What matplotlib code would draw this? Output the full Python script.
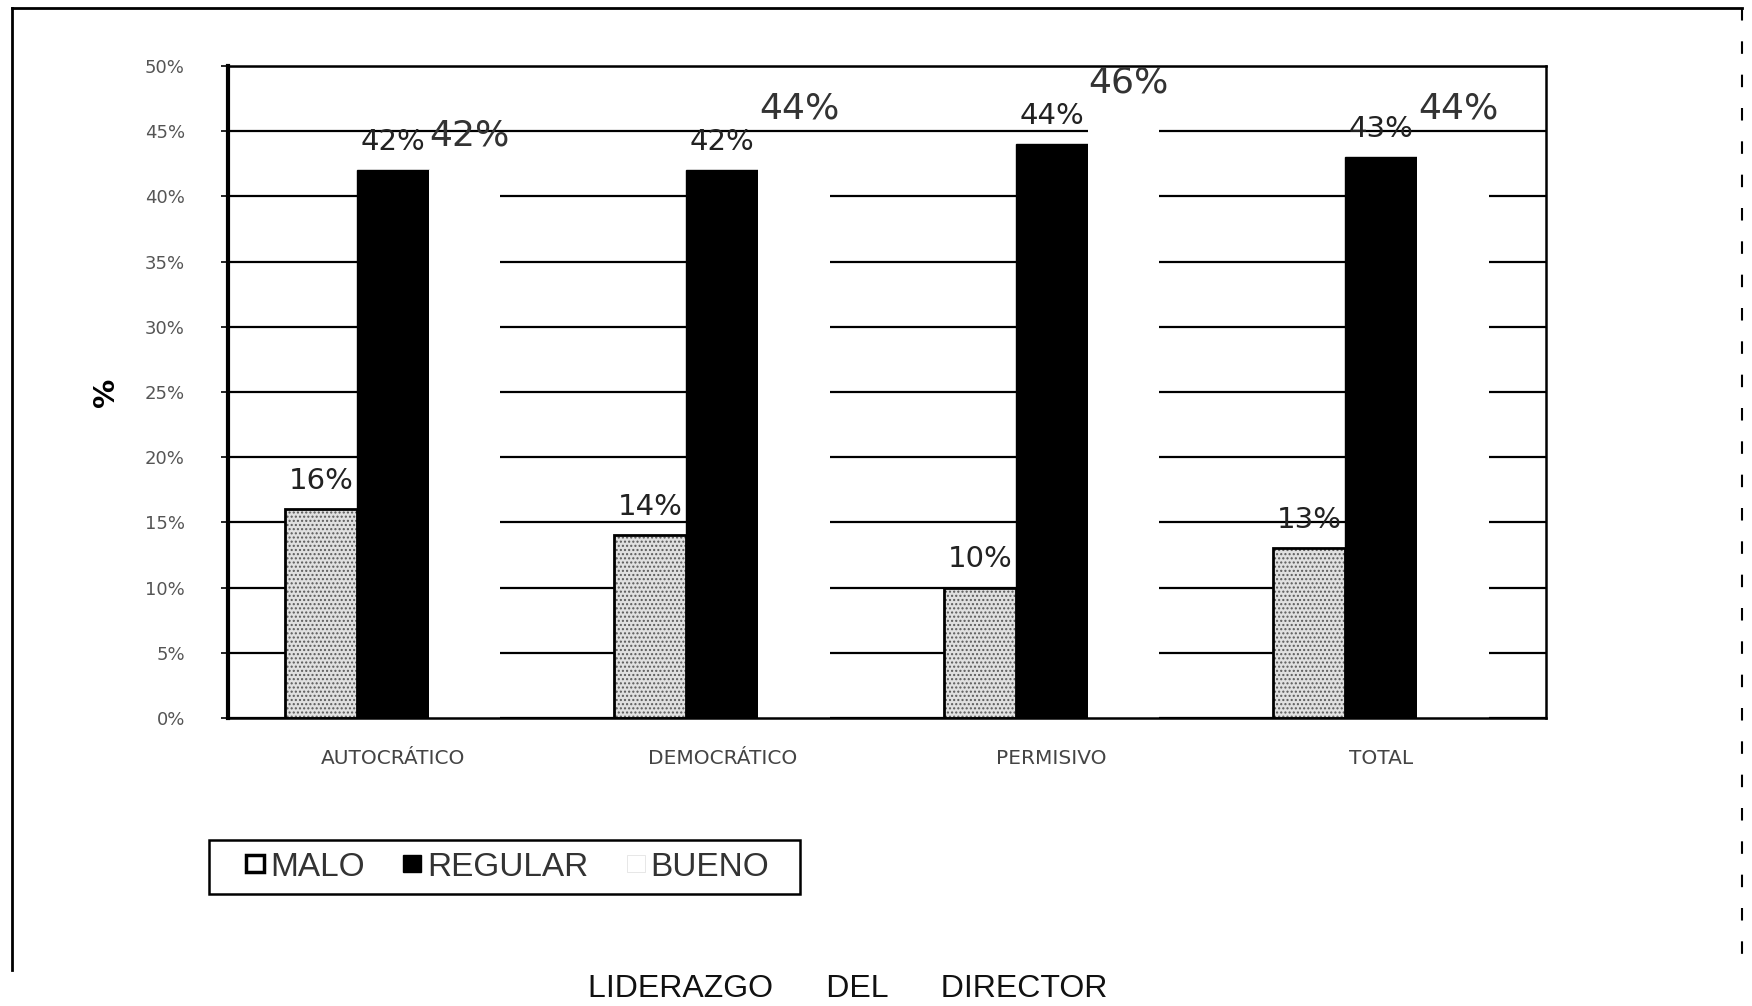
"""
Liderazgo del director: MALO / REGULAR / BUENO por tipo de liderazgo.
Recreates a scanned Excel bar chart.
"""
import numpy as np
import matplotlib
matplotlib.use('Agg')  # Non-interactive backend
import matplotlib.pyplot as plt
from matplotlib.patches import Patch, Rectangle
from matplotlib.lines import Line2D

# Data (percent)
categories = ['AUTOCRÁTICO', 'DEMOCRÁTICO', 'PERMISIVO', 'TOTAL']
malo = [16, 14, 10, 13]
regular = [42, 42, 44, 43]
bueno = [42, 44, 46, 44]
series_names = ['MALO', 'REGULAR', 'BUENO']
yticks = [0, 5, 10, 15, 20, 25, 30, 35, 40, 45, 50]
ytick_labels = ['0%', '5%', '10%', '15%', '20%', '25%', '30%', '35%', '40%', '45%', '50%']

W, H = 1752, 1006


def main():
    fig = plt.figure(figsize=(W / 100, H / 100), dpi=100)
    ax = fig.add_axes([0.1301, 0.2863, 0.7523, 0.6481])

    x = np.arange(len(categories)) + 0.5
    w = 0.218

    # MALO: light stippled bars with a black outline
    ax.bar(x - w, malo, w, color='#e0e0e0', edgecolor='#5a5a5a',
           hatch='....', linewidth=0, zorder=2)
    ax.bar(x - w, malo, w, fill=False, edgecolor='black', linewidth=2, zorder=3)
    # REGULAR: solid black
    ax.bar(x, regular, w, color='black', edgecolor='black', linewidth=1, zorder=2)
    # BUENO: white (washed out in the scan), hides the gridlines
    ax.bar(x + w, bueno, w, color='white', edgecolor='none', zorder=2)

    # value labels
    for i in range(len(categories)):
        ax.text(x[i] - w, malo[i] + 1.1, f'{malo[i]}%', ha='center', va='bottom',
                fontsize=21, family='DejaVu Sans', color='#222222', zorder=5)
        ax.text(x[i], regular[i] + 1.1, f'{regular[i]}%', ha='center', va='bottom',
                fontsize=21, family='DejaVu Sans', color='#222222', zorder=5)
        ax.text(x[i] + w + 0.015, bueno[i] + 1.4, f'{bueno[i]}%', ha='center',
                va='bottom', fontsize=26, family='DejaVu Sans',
                color='#333333', zorder=5)

    ax.set_xlim(0, len(categories))
    ax.set_ylim(0, 50)
    ax.set_yticks(yticks)
    ax.set_yticklabels(ytick_labels, fontsize=13, color='#555555',
                       family='DejaVu Sans')
    ax.set_xticks(x)
    ax.set_xticklabels(categories, fontsize=14.5, color='#444444',
                       family='DejaVu Sans')
    ax.tick_params(axis='y', length=5, width=1.2, pad=26, direction='out')
    ax.tick_params(axis='x', length=0, pad=22)

    ax.yaxis.grid(True, color='black', linewidth=1.6)
    ax.set_axisbelow(True)
    for side in ['top', 'right', 'bottom']:
        ax.spines[side].set_linewidth(1.8)
    ax.spines['left'].set_linewidth(3)

    ax.set_ylabel('%', fontsize=21, fontweight='bold', labelpad=18)

    # legend: frame drawn separately so its size matches the scan
    fig.add_artist(Rectangle((209 / W, 1 - 894 / H), (800 - 209) / W, 54 / H,
                             transform=fig.transFigure, fill=False,
                             edgecolor='black', linewidth=1.8))
    handles = [
        Patch(facecolor='white', edgecolor='black', linewidth=2.5),
        Patch(facecolor='black', edgecolor='black'),
        Patch(facecolor='white', edgecolor='#dddddd', linewidth=0.5),
    ]
    leg = fig.legend(handles, series_names, loc='center left',
                     bbox_to_anchor=(246 / W, 1 - 867 / H), ncol=3, frameon=False,
                     fontsize=24, handlelength=0.55, handleheight=0.43,
                     handletextpad=0.17, columnspacing=1.15,
                     borderpad=0, borderaxespad=0)
    for t in leg.get_texts():
        t.set_color('#333333')
        t.set_family('Liberation Sans')

    # title below the chart
    fig.text(0.484, 17 / H, 'LIDERAZGO      DEL      DIRECTOR', ha='center',
             va='center', fontsize=23, family='Liberation Sans',
             color='#111111')

    # scanned page frame
    fig.add_artist(Line2D([12 / W, 1742 / W], [1 - 8 / H, 1 - 8 / H],
                          color='black', linewidth=2))
    fig.add_artist(Line2D([12 / W, 12 / W], [1 - 8 / H, 1 - 970 / H],
                          color='black', linewidth=2))
    fig.add_artist(Line2D([1742 / W, 1742 / W], [1 - 8 / H, 1 - 963 / H],
                          color='black', linewidth=1.5, linestyle=(0, (6, 10))))

    plt.savefig('out.png', dpi=100)
    plt.close()


if __name__ == "__main__":
    main()
